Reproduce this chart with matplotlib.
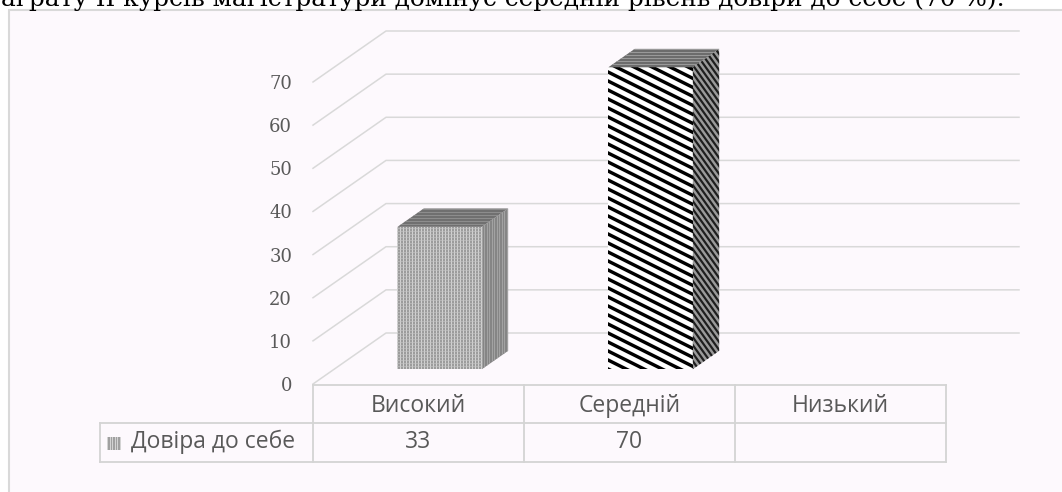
import numpy as np
import matplotlib
matplotlib.use('Agg')
import matplotlib.pyplot as plt
from matplotlib.patches import Polygon, Rectangle
from matplotlib.lines import Line2D
from matplotlib.transforms import IdentityTransform

# ---------------- data ----------------
categories = ['Високий', 'Середній', 'Низький']
values = [33, 70, None]
series_name = 'Довіра до себе'
y_ticks = [0, 10, 20, 30, 40, 50, 60, 70]
caption = 'аграту ІІ курсів магістратури домінує середній рівень довіри до себе (70 %).'

# ---------------- layout / style ----------------
W, H = 1062, 492
DX, DY = 73, 51          # 3-D depth offset in pixels (full depth)
D0, D1 = 0.29, 0.65      # bar depth span
BW = 0.40                # bar width (category units)
GRID = '#d9d9d9'
TXT = '#595959'
SANS = ['Open Sans', 'DejaVu Sans']
SERIF = ['DejaVu Serif']

fig = plt.figure(figsize=(W / 100, H / 100), dpi=100)
fig.patch.set_facecolor('white')
ident = IdentityTransform()

# chart frame
fig.add_artist(Rectangle((9, -30), 1200, H - 10 + 30, transform=ident,
                         facecolor='#fdf9fd', edgecolor=GRID, lw=1.5, zorder=-10))

fig.text(1005 / W, (H - 6) / H, caption, ha='right', va='baseline',
         fontsize=17.8, family=['DejaVu Serif'], color='black')

# main axes = front plane of the 3-D chart
ax = fig.add_axes([313 / W, (H - 384) / H, 633 / W, 302 / H])
ax.set_xlim(0, len(categories))
ax.set_ylim(0, 70)
ax.patch.set_visible(False)
for s in ax.spines.values():
    s.set_visible(False)
ax.set_xticks([])
ax.set_yticks(y_ticks)
ax.set_yticklabels([str(t) for t in y_ticks], family=SERIF, fontsize=13, color=TXT)
ax.tick_params(axis='y', length=0, pad=15)


def P(x, v, d):
    px, py = ax.transData.transform((x, v))
    return (px + DX * d, py + DY * d)


def poly(pts, z, **kw):
    p = Polygon(pts, closed=True, transform=ident, zorder=z, **kw)
    fig.add_artist(p)
    return p


def stripes(clip, pts, slope, period, color, lw_px, z):
    xs = [p[0] for p in pts]
    ys = [p[1] for p in pts]
    x0, x1, y0, y1 = min(xs), max(xs), min(ys), max(ys)
    cands = [y - slope * x for x in (x0, x1) for y in (y0, y1)]
    for c in np.arange(min(cands) - period, max(cands) + period, period):
        ln = Line2D([x0 - 2, x1 + 2], [c + slope * (x0 - 2), c + slope * (x1 + 2)],
                    transform=ident, color=color, lw=lw_px * 0.72, zorder=z)
        ln.set_clip_path(clip)
        fig.add_artist(ln)


def vlines(clip, pts, period, color, lw_px, z):
    xs = [p[0] for p in pts]
    ys = [p[1] for p in pts]
    for x in np.arange(min(xs), max(xs) + period, period):
        ln = Line2D([x, x], [min(ys) - 2, max(ys) + 2], transform=ident,
                    color=color, lw=lw_px * 0.72, zorder=z)
        ln.set_clip_path(clip)
        fig.add_artist(ln)


# gridlines: left wall diagonals + back wall horizontals
n = len(categories)
for v in y_ticks:
    pts = [P(0, v, 0), P(0, v, 1), P(n, v, 1)]
    fig.add_artist(Line2D([p[0] for p in pts], [p[1] for p in pts], transform=ident,
                          color=GRID, lw=1.1, zorder=1))

# bars
styles = [
    dict(front='#9c9c9c', side='#858585', top='#707070', kind='dots'),
    dict(front='white', side='#9a9a9a', top='#6c6c6c', kind='diag'),
    dict(front='#9c9c9c', side='#858585', top='#707070', kind='dots'),
]
for i, v in enumerate(values):
    if not v:
        continue
    st = styles[i]
    xl, xr = i + 0.5 - BW / 2, i + 0.5 + BW / 2
    front = [P(xl, 0, D0), P(xr, 0, D0), P(xr, v, D0), P(xl, v, D0)]
    side = [P(xr, 0, D0), P(xr, 0, D1), P(xr, v, D1), P(xr, v, D0)]
    top = [P(xl, v, D0), P(xr, v, D0), P(xr, v, D1), P(xl, v, D1)]
    z = 5 + i
    pf = poly(front, z, facecolor=st['front'], edgecolor='none')
    ps = poly(side, z, facecolor=st['side'], edgecolor='none')
    pt = poly(top, z, facecolor=st['top'], edgecolor='none')
    if st['kind'] == 'dots':
        vlines(pf, front, 3.0, '#d8d8d8', 0.9, z + 0.1)
        stripes(pf, front, 0.0, 3.0, '#c4c4c4', 0.6, z + 0.2)
        vlines(ps, side, 2.5, '#aaaaaa', 0.8, z + 0.1)
        stripes(pt, top, 0.0, 3.0, '#959595', 0.8, z + 0.1)
    else:
        stripes(pf, front, -0.5, 9.0, 'black', 3.4, z + 0.1)
        stripes(ps, side, -1.4, 8.0, '#1e1e1e', 2.2, z + 0.1)
        stripes(pt, top, 0.0, 3.0, '#999999', 1.0, z + 0.1)

# data table
colx = [ax.transData.transform((i, 0))[0] for i in range(n + 1)]
y_top = P(0, 0, 0)[1] - 1
y_mid = H - 423
y_bot = H - 462
x_leg = 100
tl = dict(transform=ident, color='#d4d4d4', lw=1.3, zorder=3)
fig.add_artist(Line2D([colx[0], colx[-1]], [y_top, y_top], **tl))
fig.add_artist(Line2D([x_leg, colx[-1]], [y_mid, y_mid], **tl))
fig.add_artist(Line2D([x_leg, colx[-1]], [y_bot, y_bot], **tl))
fig.add_artist(Line2D([x_leg, x_leg], [y_mid, y_bot], **tl))
for x in colx:
    fig.add_artist(Line2D([x, x], [y_top, y_bot], **tl))

for i, c in enumerate(categories):
    cx = (colx[i] + colx[i + 1]) / 2
    fig.text(cx / W, (H - 406) / H, c, ha='center', va='center', family=SANS,
             fontsize=16.5, color=TXT)
    if values[i]:
        fig.text(cx / W, (H - 442) / H, str(values[i]), ha='center', va='center',
                 family=SANS, fontsize=16.5, color=TXT)

# legend key + series name
key = [(107, H - 450), (121, H - 450), (121, H - 437), (107, H - 437)]
pk = poly(key, 4, facecolor='#a0a0a0', edgecolor='none')
vlines(pk, key, 2.5, '#e0e0e0', 0.8, 4.1)
fig.text(131 / W, (H - 442) / H, series_name, ha='left', va='center', family=SANS,
         fontsize=16.5, color=TXT)

fig.savefig('out.png', dpi=100, facecolor='white')
